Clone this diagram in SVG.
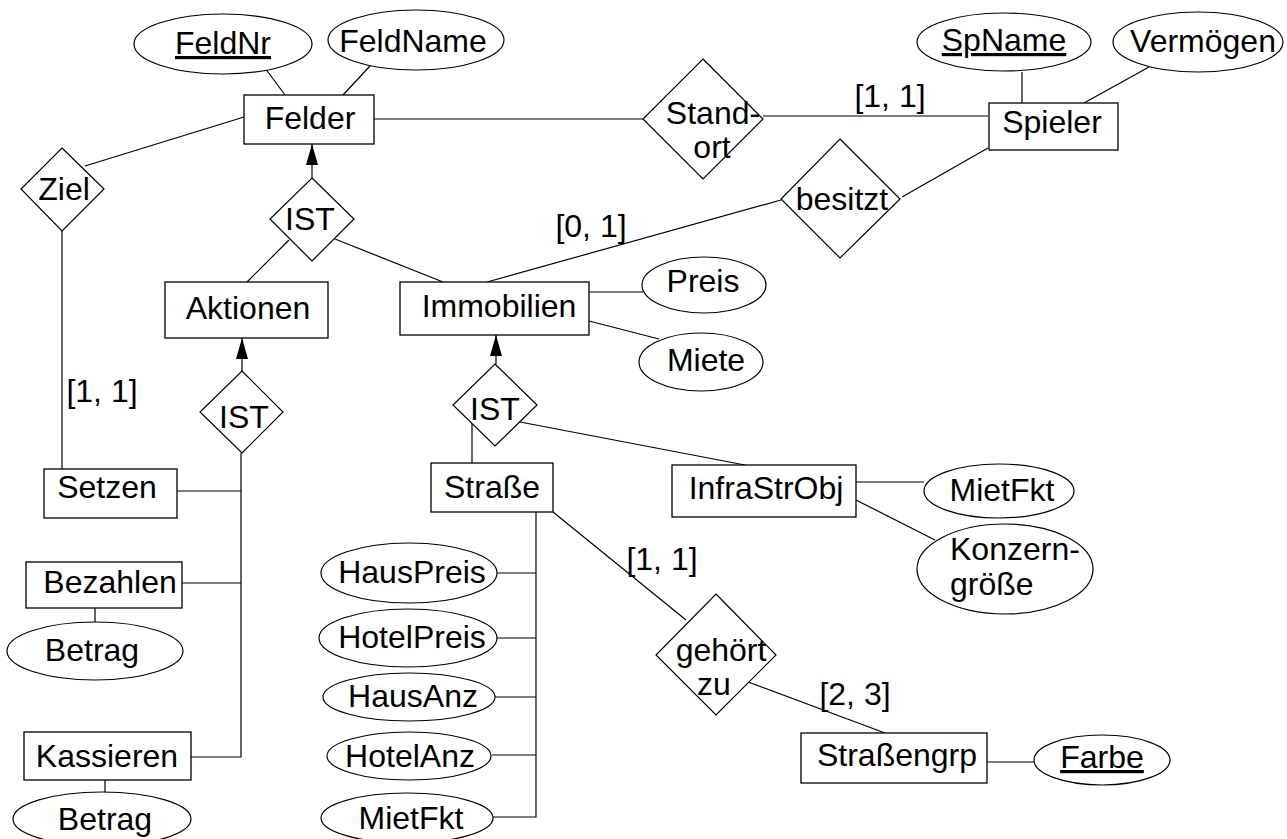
<svg xmlns="http://www.w3.org/2000/svg" width="1287" height="839" viewBox="0 0 1287 839">
<defs>
<style>
.e{fill:#fff;stroke:#000;stroke-width:1.2}
.r{fill:#fff;stroke:#000;stroke-width:1.3}
.d{fill:#fff;stroke:#000;stroke-width:1.2}
.c line,.c polyline{stroke:#000;stroke-width:1.2;fill:none}
text{font-family:"Liberation Sans",Arial,sans-serif;font-size:32px;fill:#000;text-anchor:middle}
.u{text-decoration:underline}
.l{text-anchor:start}
</style>
<marker id="arr" markerUnits="userSpaceOnUse" markerWidth="21" markerHeight="12" viewBox="0 0 21 12" refX="21" refY="6" orient="auto">
<path d="M0,0 L21,6 L0,12 z" fill="#000"/>
</marker>
</defs>
<rect width="1287" height="839" fill="#fff"/>
<g id="connectors" class="c">
<line x1="265" y1="68" x2="285" y2="95"/>
<line x1="370" y1="66" x2="343" y2="95"/>
<line x1="374" y1="119" x2="643" y2="119"/>
<line x1="763" y1="116" x2="988" y2="116"/>
<line x1="1022" y1="72" x2="1022" y2="103"/>
<line x1="1149" y1="67" x2="1084" y2="103"/>
<line x1="244" y1="117" x2="85" y2="166"/>
<line x1="62" y1="231" x2="62" y2="469"/>
<line x1="312" y1="178" x2="312" y2="144" marker-end="url(#arr)"/>
<line x1="289" y1="240" x2="247" y2="282"/>
<line x1="335" y1="239" x2="443" y2="282"/>
<line x1="902" y1="197" x2="988" y2="148"/>
<line x1="781" y1="200" x2="487" y2="282"/>
<line x1="589" y1="292" x2="643" y2="292"/>
<line x1="589" y1="321" x2="659" y2="339"/>
<line x1="242" y1="371" x2="242" y2="338" marker-end="url(#arr)"/>
<polyline points="241,453 241,757 191,757"/>
<line x1="177" y1="491" x2="241" y2="491"/>
<line x1="182" y1="583" x2="241" y2="583"/>
<line x1="95" y1="608" x2="95" y2="622"/>
<line x1="105" y1="780" x2="105" y2="792"/>
<line x1="496" y1="364" x2="496" y2="335" marker-end="url(#arr)"/>
<line x1="472" y1="423" x2="472" y2="463"/>
<line x1="520" y1="422" x2="745" y2="465"/>
<polyline points="536,512 536,817 493,817"/>
<line x1="497" y1="573" x2="536" y2="573"/>
<line x1="497" y1="638" x2="536" y2="638"/>
<line x1="495" y1="697" x2="536" y2="697"/>
<line x1="492" y1="755" x2="536" y2="755"/>
<line x1="553" y1="512" x2="686" y2="620"/>
<line x1="748" y1="682" x2="885" y2="733"/>
<line x1="856" y1="482" x2="924" y2="482"/>
<line x1="856" y1="500" x2="935" y2="540"/>
<line x1="987" y1="762" x2="1034" y2="762"/>
<text x="890" y="107">[1, 1]</text>
<text x="591" y="237">[0, 1]</text>
<text x="102" y="402">[1, 1]</text>
<text x="662" y="570">[1, 1]</text>
<text x="855" y="705">[2, 3]</text>
</g>
<g id="FeldNr"><ellipse class="e" cx="223" cy="44" rx="89" ry="30"/><text class="u" x="223" y="54">FeldNr</text></g>
<g id="FeldName"><ellipse class="e" cx="416" cy="40" rx="88" ry="30"/><text x="413" y="52">FeldName</text></g>
<g id="Felder"><rect class="r" x="244" y="95" width="130" height="49"/><text x="310" y="129">Felder</text></g>
<g id="Standort"><polygon class="d" points="703,59 763,119 703,179 643,119"/><text x="713" y="124">Stand-</text><text x="712" y="158">ort</text></g>
<g id="SpName"><ellipse class="e" cx="1004" cy="42" rx="87" ry="29"/><text class="u" x="1004" y="51">SpName</text></g>
<g id="Vermoegen"><ellipse class="e" cx="1198" cy="42" rx="85" ry="30"/><text x="1203" y="52">Vermögen</text></g>
<g id="Spieler"><rect class="r" x="989" y="103" width="129" height="47"/><text x="1052" y="133">Spieler</text></g>
<g id="Ziel"><polygon class="d" points="62,148 104,189 62,231 21,189"/><text x="64" y="200">Ziel</text></g>
<g id="IST1"><polygon class="d" points="312,178 354,219 312,261 270,219"/><text x="310" y="230">IST</text></g>
<g id="besitzt"><polygon class="d" points="840,139 900,199 840,258 781,199"/><text x="842" y="210">besitzt</text></g>
<g id="Aktionen"><rect class="r" x="165" y="282" width="163" height="56"/><text x="248" y="319">Aktionen</text></g>
<g id="Immobilien"><rect class="r" x="400" y="282" width="189" height="53"/><text x="499" y="317">Immobilien</text></g>
<g id="Preis"><ellipse class="e" cx="704" cy="285" rx="62" ry="28"/><text x="703" y="292">Preis</text></g>
<g id="Miete"><ellipse class="e" cx="701" cy="362" rx="62" ry="29"/><text x="706" y="371">Miete</text></g>
<g id="IST2"><polygon class="d" points="242,371 283,412 242,453 200,412"/><text x="244" y="428">IST</text></g>
<g id="IST3"><polygon class="d" points="495,364 537,405 495,446 453,405"/><text x="495" y="420">IST</text></g>
<g id="Setzen"><rect class="r" x="44" y="469" width="133" height="49"/><text x="107" y="498">Setzen</text></g>
<g id="Bezahlen"><rect class="r" x="26" y="562" width="156" height="46"/><text x="110" y="593">Bezahlen</text></g>
<g id="Betrag1"><ellipse class="e" cx="95" cy="651" rx="88" ry="29"/><text x="92" y="661">Betrag</text></g>
<g id="Kassieren"><rect class="r" x="24" y="732" width="167" height="48"/><text x="107" y="767">Kassieren</text></g>
<g id="Betrag2"><ellipse class="e" cx="102" cy="819" rx="89" ry="27"/><text x="105" y="830">Betrag</text></g>
<g id="Strasse"><rect class="r" x="431" y="463" width="122" height="49"/><text x="492" y="498">Straße</text></g>
<g id="InfraStrObj"><rect class="r" x="672" y="465" width="184" height="52"/><text x="766" y="499">InfraStrObj</text></g>
<g id="MietFkt1"><ellipse class="e" cx="999" cy="491" rx="75" ry="27"/><text x="1002" y="501">MietFkt</text></g>
<g id="Konzerngroesse"><ellipse class="e" cx="1005" cy="569" rx="88" ry="45"/><text class="l" x="950" y="560">Konzern-</text><text class="l" x="950" y="595">größe</text></g>
<g id="HausPreis"><ellipse class="e" cx="409" cy="573" rx="88" ry="30"/><text x="412" y="583">HausPreis</text></g>
<g id="HotelPreis"><ellipse class="e" cx="408" cy="638" rx="89" ry="29"/><text x="412" y="648">HotelPreis</text></g>
<g id="HausAnz"><ellipse class="e" cx="409" cy="697" rx="86" ry="24"/><text x="413" y="707">HausAnz</text></g>
<g id="HotelAnz"><ellipse class="e" cx="409" cy="756" rx="82" ry="24"/><text x="410" y="767">HotelAnz</text></g>
<g id="MietFkt2"><ellipse class="e" cx="407" cy="818" rx="86" ry="25"/><text x="411" y="829">MietFkt</text></g>
<g id="gehoertzu"><polygon class="d" points="716,594 776,655 716,715 656,655"/><text x="721" y="661">gehört</text><text x="714" y="695">zu</text></g>
<g id="Strassengrp"><rect class="r" x="801" y="733" width="186" height="50"/><text x="897" y="766">Straßengrp</text></g>
<g id="Farbe"><ellipse class="e" cx="1102" cy="760" rx="68" ry="25"/><text class="u" x="1102" y="768">Farbe</text></g>
</svg>
